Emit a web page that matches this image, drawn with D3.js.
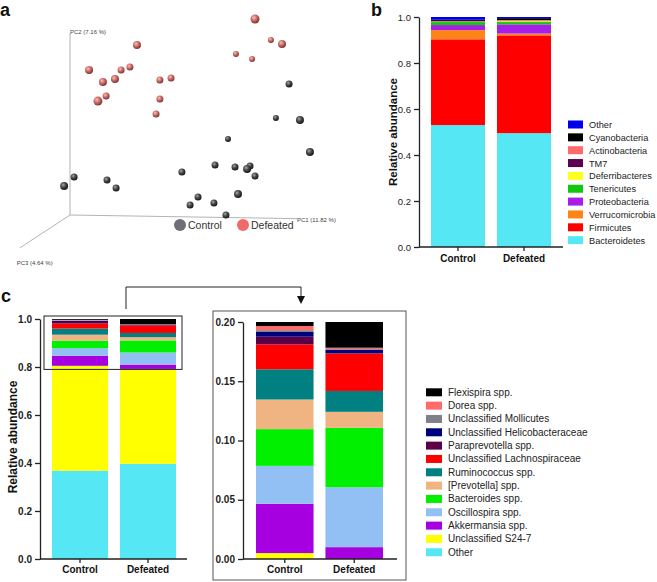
<!DOCTYPE html>
<html><head><meta charset="utf-8">
<script src="https://d3js.org/d3.v7.min.js"></script>
<style>
body { margin: 0; background: #fff; }
svg { font-family: "Liberation Sans", Arial, Helvetica, sans-serif; }
.axis path, .axis line { stroke: #222; stroke-width: 1.3px; }
.axis text { fill: #222; }
</style>
</head><body>
<svg id="fig" width="657" height="582"></svg>
<script>
// ---------- data ----------
const groups = ["Control", "Defeated"];

// panel a: projected PCoA positions (PC1 axis runs 0..100, PC2 axis runs 0..100) and sphere size
const defeatedX = [81.5, 88.5, 93.4, 73.1, 80.2, 29.5, 8.4, 22.5, 26.4, 14.5, 19.8, 39.6, 44.5, 15.9, 12.3, 39.6, 37.9];
const defeatedY = [107.7, 96.2, 94.0, 88.5, 85.7, 93.4, 79.7, 79.7, 81.3, 73.1, 74.7, 74.2, 75.3, 65.4, 62.6, 63.7, 55.5];
const defeatedR = [4.5, 3, 4, 3, 3, 4, 4, 3.5, 3.5, 4, 4, 3.5, 3.5, 3.5, 4.5, 3.5, 3.5];
const controlX = [96.5, 90.7, 101.3, 105.7, 69.6, 63.9, 72.7, 79.3, 78.0, 81.5, 49.3, 74.0, 56.4, 52.9, 63.4, 68.7, 1.8, -2.6, 16.3, 20.3];
const controlY = [72.0, 53.3, 52.2, 34.6, 41.8, 27.5, 26.4, 26.9, 25.3, 21.4, 23.6, 11.5, 9.9, 5.5, 6.6, 0, 20.9, 15.9, 19.2, 14.8];
const controlR = [3.5, 3, 4, 4, 3, 3.5, 3.5, 3.5, 4, 3.5, 3.5, 4, 3.5, 3.5, 3.5, 3.5, 3.5, 4, 3.5, 3.5];

// panel b: phylum level relative abundance (bottom to top)
const phyla = ["Bacteroidetes", "Firmicutes", "Verrucomicrobia", "Proteobacteria", "Tenericutes",
  "Deferribacteres", "TM7", "Actinobacteria", "Cyanobacteria", "Other"];
const phylaColors = ["#55e8f4", "#ff0000", "#ff8418", "#a81ee8", "#10c810",
  "#ffff20", "#5c0050", "#ff6a6a", "#000000", "#0000ee"];
const phylaControl = [0.530, 0.373, 0.040, 0.022, 0.013, 0.001, 0.002, 0.002, 0.005, 0.012];
const phylaDefeated = [0.495, 0.425, 0.008, 0.040, 0.010, 0.004, 0.002, 0.003, 0.008, 0.005];

// panel c: genus level relative abundance (bottom to top)
const genera = ["Other", "Unclassified S24-7", "Akkermansia spp.", "Oscillospira spp.", "Bacteroides spp.",
  "[Prevotella] spp.", "Ruminococcus spp.", "Unclassified Lachnospiraceae", "Paraprevotella spp.",
  "Unclassified Helicobacteraceae", "Unclassified Mollicutes", "Dorea spp.", "Flexispira spp."];
const generaColors = ["#55e8f4", "#ffff00", "#a600e0", "#92bff4", "#00f000",
  "#f0b482", "#008080", "#ff0000", "#5c0048",
  "#00007e", "#808088", "#ff6a6a", "#000000"];
const generaControl = [0.368, 0.437, 0.0416, 0.032, 0.031, 0.025, 0.0255, 0.021, 0.0065, 0.004, 0.0015, 0.0035, 0.0034];
const generaDefeated = [0.397, 0.395, 0.018, 0.0505, 0.0502, 0.0135, 0.0176, 0.0315, 0.0005, 0.0028, 0.0005, 0.0012, 0.0217];

// ---------- helpers ----------
const svg = d3.select("#fig");

function makeRows(keys, a, b) {
  return groups.map((grp, gi) => {
    const row = { group: grp };
    keys.forEach((k, i) => row[k] = gi === 0 ? a[i] : b[i]);
    return row;
  });
}

function stackedBars(g, rows, keys, colors, x, y) {
  const series = d3.stack().keys(keys)(rows);
  g.selectAll("g.layer").data(series).join("g")
    .attr("class", "layer")
    .attr("fill", (d, i) => colors[i])
    .selectAll("rect").data(d => d).join("rect")
    .attr("x", d => x(d.data.group))
    .attr("width", x.bandwidth())
    .attr("y", d => y(d[1]))
    .attr("height", d => Math.max(0, y(d[0]) - y(d[1])));
}

function xAxisLine(g, x, y0, x0, x1, labelY) {
  g.append("line").attr("x1", x0).attr("x2", x1).attr("y1", y0).attr("y2", y0)
    .attr("stroke", "#222").attr("stroke-width", 1.3);
  groups.forEach(grp => {
    const cx = x(grp) + x.bandwidth() / 2;
    g.append("line").attr("x1", cx).attr("x2", cx).attr("y1", y0).attr("y2", y0 + 4)
      .attr("stroke", "#222").attr("stroke-width", 1.3);
    g.append("text").attr("x", cx).attr("y", labelY).attr("text-anchor", "middle")
      .attr("font-size", 10).attr("font-weight", "bold").attr("fill", "#111").text(grp);
  });
}

function legend(g, keys, colors, x0, y0, step, sw, sh, fs) {
  const items = keys.map((k, i) => ({ k: k, c: colors[i] })).reverse();
  const rowsG = g.selectAll("g.item").data(items).join("g")
    .attr("class", "item")
    .attr("transform", (d, i) => `translate(${x0},${y0 + i * step})`);
  rowsG.append("rect").attr("x", 0).attr("y", -sh / 2).attr("width", sw).attr("height", sh)
    .attr("fill", d => d.c);
  rowsG.append("text").attr("x", sw + 6).attr("y", 3.5).attr("font-size", fs)
    .attr("fill", "#222").text(d => d.k);
}

function panelLetter(t, x, y) {
  svg.append("text").attr("x", x).attr("y", y).attr("font-size", 18)
    .attr("font-weight", "bold").attr("fill", "#111").text(t);
}

// ---------- panel a: PCoA ----------
panelLetter("a", 0, 16);
const ga = svg.append("g");
const xa = d3.scaleLinear().domain([0, 100]).range([70, 297]);
const ya = d3.scaleLinear().domain([0, 100]).range([215, 33]);

const defs = svg.append("defs");
function sphereGrad(id, c0, c1, c2) {
  const gr = defs.append("radialGradient").attr("id", id)
    .attr("cx", "38%").attr("cy", "35%").attr("r", "65%");
  gr.append("stop").attr("offset", "0%").attr("stop-color", c0);
  gr.append("stop").attr("offset", "45%").attr("stop-color", c1);
  gr.append("stop").attr("offset", "100%").attr("stop-color", c2);
}
sphereGrad("gRed", "#f8c4bc", "#d2726c", "#7c3532");
sphereGrad("gGray", "#a8a8a8", "#4e4e4e", "#161616");

// axes of the 3D frame
const axisStroke = "#a0a0a0";
ga.append("line").attr("x1", xa(0)).attr("y1", ya(0)).attr("x2", xa(0)).attr("y2", ya(100))
  .attr("stroke", axisStroke).attr("stroke-width", 0.8);
ga.append("line").attr("x1", xa(0)).attr("y1", ya(0)).attr("x2", xa(100)).attr("y2", ya(-2))
  .attr("stroke", axisStroke).attr("stroke-width", 0.8);
ga.append("line").attr("x1", xa(0)).attr("y1", ya(0)).attr("x2", xa(-22)).attr("y2", ya(-18))
  .attr("stroke", axisStroke).attr("stroke-width", 0.8);
ga.append("text").attr("x", xa(0)).attr("y", ya(100) + 1).attr("font-size", 6).attr("fill", "#444").text("PC2 (7.16 %)");
ga.append("text").attr("x", xa(100)).attr("y", ya(-2) + 3).attr("font-size", 6).attr("fill", "#444").text("PC1 (11.82 %)");
ga.append("text").attr("x", xa(-23.5)).attr("y", ya(-27.5)).attr("font-size", 6).attr("fill", "#444").text("PC3 (4.64 %)");

const pts = controlX.map((v, i) => ({ x: v, y: controlY[i], r: controlR[i], g: "gGray" }))
  .concat(defeatedX.map((v, i) => ({ x: v, y: defeatedY[i], r: defeatedR[i], g: "gRed" })));
ga.selectAll("circle.pt").data(pts).join("circle")
  .attr("class", "pt")
  .attr("cx", d => xa(d.x)).attr("cy", d => ya(d.y)).attr("r", d => d.r)
  .attr("fill", d => `url(#${d.g})`);

// legend a
const legA = [{ k: "Control", c: "#6e7079", x: 180 }, { k: "Defeated", c: "#f06a6a", x: 243 }];
legA.forEach(d => {
  ga.append("circle").attr("cx", d.x).attr("cy", 225).attr("r", 6).attr("fill", d.c);
  ga.append("text").attr("x", d.x + 8).attr("y", 229).attr("font-size", 10.5).attr("fill", "#333").text(d.k);
});

// ---------- panel b: phyla ----------
panelLetter("b", 371, 16);
const gb = svg.append("g");
const yb = d3.scaleLinear().domain([0, 1]).range([247, 17]);
const xb = d3.scaleBand().domain(groups).range([431, 551]).paddingInner(12 / 66);
stackedBars(gb, makeRows(phyla, phylaControl, phylaDefeated), phyla, phylaColors, xb, yb);
gb.append("g").attr("class", "axis").attr("transform", "translate(419,0)")
  .call(d3.axisLeft(yb).tickValues([0, 0.2, 0.4, 0.6, 0.8, 1.0]).tickFormat(d3.format(".1f")).tickSize(5).tickSizeOuter(0))
  .call(g => g.selectAll("text").attr("font-size", 9.5).attr("font-family", null));
xAxisLine(gb, xb, 247, 419, 563, 262);
gb.append("text").attr("transform", "translate(397,132) rotate(-90)").attr("text-anchor", "middle")
  .attr("font-size", 11.5).attr("font-weight", "bold").attr("fill", "#111").text("Relative abundance");
legend(gb, phyla, phylaColors, 568, 124.5, 12.85, 15, 8, 9.2);

// ---------- panel c: genera ----------
panelLetter("c", 1, 302);
const gc = svg.append("g");
const rowsC = makeRows(genera, generaControl, generaDefeated);
const yc = d3.scaleLinear().domain([0, 1]).range([559, 319]);
const xc = d3.scaleBand().domain(groups).range([52, 176]).paddingInner(12 / 68);
stackedBars(gc, rowsC, genera, generaColors, xc, yc);
gc.append("g").attr("class", "axis").attr("transform", "translate(40,0)")
  .call(d3.axisLeft(yc).tickValues([0, 0.2, 0.4, 0.6, 0.8, 1.0]).tickFormat(d3.format(".1f")).tickSize(5).tickSizeOuter(0))
  .call(g => g.selectAll("text").attr("font-size", 10).attr("font-weight", "bold").attr("font-family", null));
xAxisLine(gc, xc, 559, 40, 187, 573);
gc.append("text").attr("transform", "translate(17,437) rotate(-90)").attr("text-anchor", "middle")
  .attr("font-size", 12).attr("font-weight", "bold").attr("fill", "#111").text("Relative abundance");

// highlight box around the top 0.2 and connector arrow
gc.append("rect").attr("x", 44).attr("y", yc(1) - 3).attr("width", 138).attr("height", yc(0.79) - yc(1) + 3)
  .attr("fill", "none").attr("stroke", "#222").attr("stroke-width", 1);
gc.append("path").attr("d", "M126,309V287H301V297").attr("fill", "none").attr("stroke", "#222").attr("stroke-width", 1);
gc.append("path").attr("d", "M297,296L305,296L301,304Z").attr("fill", "#111");

// inset: zoom of the top 0.20
gc.append("rect").attr("x", 213).attr("y", 311).attr("width", 193).attr("height", 269)
  .attr("fill", "none").attr("stroke", "#555").attr("stroke-width", 1);
const yi = d3.scaleLinear().domain([0.8, 1.0]).range([559, 322]).clamp(true);
const xi = d3.scaleBand().domain(groups).range([256, 383]).paddingInner(12 / 70);
stackedBars(gc.append("g"), rowsC, genera, generaColors, xi, yi);
gc.append("g").attr("class", "axis").attr("transform", "translate(243,0)")
  .call(d3.axisLeft(yi).tickValues([0.8, 0.85, 0.9, 0.95, 1.0]).tickFormat(d => (d - 0.8).toFixed(2)).tickSize(5).tickSizeOuter(0))
  .call(g => g.selectAll("text").attr("font-size", 10).attr("font-weight", "bold").attr("font-family", null));
xAxisLine(gc, xi, 559, 243, 397, 573);

legend(gc, genera, generaColors, 426, 392.3, 13.33, 16, 8, 10);
</script>
</body></html>
